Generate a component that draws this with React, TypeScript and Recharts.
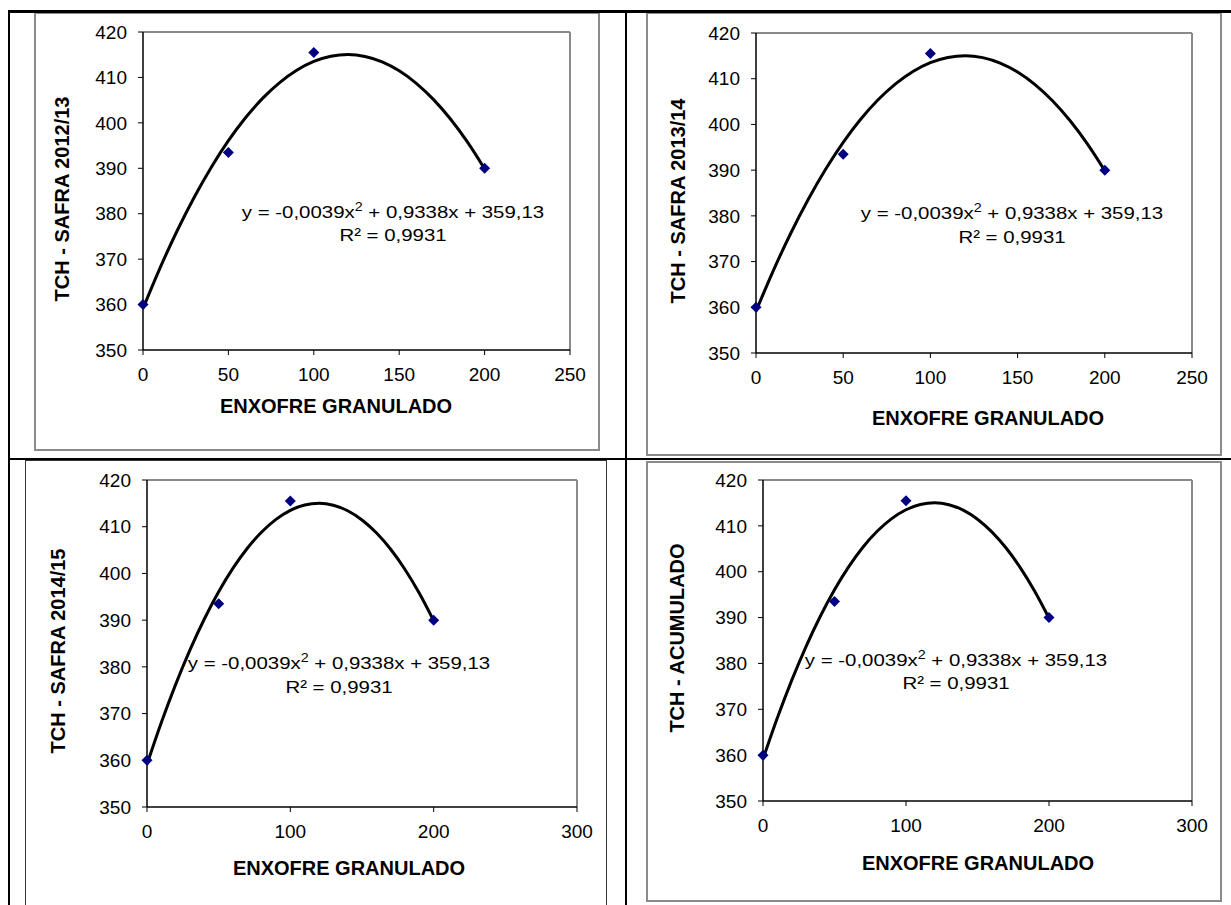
import React from "react";
import {
  ComposedChart,
  Line,
  Scatter,
  XAxis,
  YAxis,
  ReferenceLine,
} from "recharts";

// observed points (dose of granulated sulphur x TCH)
const doses = [0, 50, 100, 200];
const tch = [360, 393.5, 415.5, 390];

// polynomial trend line
const trendDoses = [0, 10, 20, 30, 40, 50, 60, 70, 80, 90, 100, 110, 120, 130, 140, 150, 160, 170, 180, 190, 200];
const trendTch = [
  359.13, 368.08, 376.25, 383.63, 390.24, 396.07, 401.12, 405.39, 408.87, 411.58, 413.51,
  414.66, 415.03, 414.61, 413.42, 411.45, 408.7, 405.17, 400.85, 395.76, 389.89,
];

const yTicks = [350, 360, 370, 380, 390, 400, 410, 420];
const xTicks250 = [0, 50, 100, 150, 200, 250];
const xTicks300 = [0, 100, 200, 300];

const yTitles = [
  "TCH - SAFRA 2012/13",
  "TCH - SAFRA 2013/14",
  "TCH - SAFRA 2014/15",
  "TCH - ACUMULADO",
];
const xTitle = "ENXOFRE GRANULADO";
const r2Text = "R² = 0,9931";

const points = doses.map((x, i) => ({ x, y: tch[i] }));
const trend = trendDoses.map((x, i) => ({ x, y: trendTch[i] }));

const FONT = '"Liberation Sans", Arial, Helvetica, sans-serif';
const YW = 70;
const XH = 45;
const MT = 20;
const MR = 20;

// layout of the four cells
const panels = [
  {
    plot: { left: 143, top: 32, right: 570, bottom: 350 },
    box: { left: 34, top: 12, right: 600, bottom: 451, color: "#8a8a8a" },
    xMax: 250,
    xTicks: xTicks250,
    yTitle: { x: 62, y: 199 },
    xTitle: { x: 336, y: 406 },
    eq: { x: 393, y1: 212, y2: 235 },
  },
  {
    plot: { left: 756, top: 33, right: 1192, bottom: 353 },
    box: { left: 646, top: 12, right: 1222, bottom: 456, color: "#8a8a8a" },
    xMax: 250,
    xTicks: xTicks250,
    yTitle: { x: 678, y: 201 },
    xTitle: { x: 988, y: 418 },
    eq: { x: 1012, y1: 213, y2: 237 },
  },
  {
    plot: { left: 147, top: 480, right: 577, bottom: 807 },
    box: { left: 25, top: 460, right: 607, bottom: 915, color: "#333" },
    xMax: 300,
    xTicks: xTicks300,
    yTitle: { x: 58, y: 651 },
    xTitle: { x: 349, y: 868 },
    eq: { x: 339, y1: 663, y2: 687 },
  },
  {
    plot: { left: 763, top: 480, right: 1192, bottom: 801 },
    box: { left: 646, top: 461, right: 1222, bottom: 902, color: "#8a8a8a" },
    xMax: 300,
    xTicks: xTicks300,
    yTitle: { x: 677, y: 638 },
    xTitle: { x: 978, y: 863 },
    eq: { x: 956, y1: 660, y2: 683 },
  },
];

const Diamond = (props: any) => {
  const { cx, cy } = props;
  if (cx == null || cy == null) return null;
  const h = 5.5;
  return (
    <polygon
      points={`${cx},${cy - h} ${cx + h},${cy} ${cx},${cy + h} ${cx - h},${cy}`}
      fill="#000080"
    />
  );
};

const centered = (x: number, y: number, extra: React.CSSProperties = {}) =>
  ({
    position: "absolute",
    left: x,
    top: y,
    whiteSpace: "nowrap",
    fontFamily: FONT,
    color: "#000",
    lineHeight: 1,
    ...extra,
  } as React.CSSProperties);

const Panel = ({ p, idx }: { p: any; idx: number }) => {
  const plotW = p.plot.right - p.plot.left;
  const plotH = p.plot.bottom - p.plot.top;
  const width = YW + plotW + MR;
  const height = MT + plotH + XH;
  return (
    <>
      <div
        style={{
          position: "absolute",
          left: p.box.left,
          top: p.box.top,
          width: p.box.right - p.box.left,
          height: p.box.bottom - p.box.top,
          border: `${p.box.color === "#333" ? 1 : 2}px solid ${p.box.color}`,
          boxSizing: "border-box",
        }}
      />
      <div style={{ position: "absolute", left: p.plot.left - YW, top: p.plot.top - MT }}>
        <ComposedChart
          width={width}
          height={height}
          margin={{ top: MT, right: MR, left: 0, bottom: 0 }}
        >
          <XAxis
            type="number"
            dataKey="x"
            domain={[0, p.xMax]}
            ticks={p.xTicks}
            interval={0}
            height={XH}
            tickSize={5}
            tickMargin={13}
            axisLine={{ stroke: "#000", strokeWidth: 1.5 }}
            tickLine={{ stroke: "#000" }}
            tick={{ fill: "#000", fontSize: 19, fontFamily: FONT }}
          />
          <YAxis
            type="number"
            dataKey="y"
            domain={[350, 420]}
            ticks={yTicks}
            interval={0}
            width={YW}
            tickSize={5}
            tickMargin={11}
            axisLine={{ stroke: "#000", strokeWidth: 1.5 }}
            tickLine={{ stroke: "#000" }}
            tick={{ fill: "#000", fontSize: 19, fontFamily: FONT }}
          />
          <ReferenceLine y={420} stroke="#8a8a8a" strokeWidth={2} />
          <ReferenceLine x={p.xMax} stroke="#8a8a8a" strokeWidth={2} />
          <Line
            data={trend}
            dataKey="y"
            type="monotone"
            stroke="#000"
            strokeWidth={3}
            dot={false}
            isAnimationActive={false}
          />
          <Scatter
            data={points}
            dataKey="y"
            fill="#000080"
            shape={Diamond}
            isAnimationActive={false}
          />
        </ComposedChart>
      </div>
      <div
        style={centered(p.yTitle.x, p.yTitle.y, {
          fontSize: 20,
          fontWeight: "bold",
          transform: "translate(-50%, -50%) rotate(-90deg)",
        })}
      >
        {yTitles[idx]}
      </div>
      <div
        style={centered(p.xTitle.x, p.xTitle.y, {
          fontSize: 20,
          fontWeight: "bold",
          transform: "translate(-50%, -50%)",
        })}
      >
        {xTitle}
      </div>
      <div
        style={centered(p.eq.x, p.eq.y1, {
          fontSize: 17,
          transform: "translate(-50%, -50%) scaleX(1.2)",
        })}
      >
        y = -0,0039x
        <sup style={{ fontSize: "0.7em", lineHeight: 0 }}>2</sup> + 0,9338x + 359,13
      </div>
      <div
        style={centered(p.eq.x, p.eq.y2, {
          fontSize: 17,
          transform: "translate(-50%, -50%) scaleX(1.2)",
        })}
      >
        {r2Text}
      </div>
    </>
  );
};

export default function App() {
  return (
    <div
      style={{
        position: "absolute",
        left: 0,
        top: 0,
        width: 1231,
        height: 905,
        overflow: "hidden",
        background: "#fff",
      }}
    >
      {panels.map((p, i) => (
        <Panel key={i} p={p} idx={i} />
      ))}
      {/* table rules */}
      <div style={{ position: "absolute", left: 8, top: 10, width: 1223, height: 3, background: "#000" }} />
      <div style={{ position: "absolute", left: 8, top: 458, width: 1223, height: 2, background: "#000" }} />
      <div style={{ position: "absolute", left: 8, top: 10, width: 2, height: 895, background: "#000" }} />
      <div style={{ position: "absolute", left: 625, top: 10, width: 2, height: 895, background: "#000" }} />
    </div>
  );
}
